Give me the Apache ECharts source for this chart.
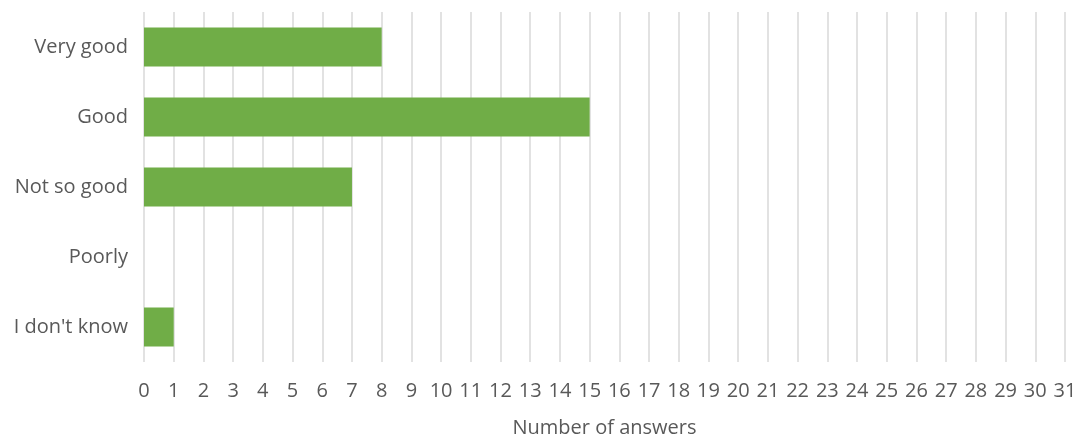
<!DOCTYPE html>
<html>
<head>
<meta charset="utf-8">
<script src="https://cdn.jsdelivr.net/npm/echarts@6/dist/echarts.min.js"></script>
<style>html,body{margin:0;padding:0;background:#fff;}#c{width:1081px;height:437px;}</style>
</head>
<body>
<div id="c"></div>
<script>
const categories = ["Very good", "Good", "Not so good", "Poorly", "I don't know"];
const answers = [8, 15, 7, 0, 1];
const xAxisTitle = "Number of answers";

const chart = echarts.init(document.getElementById('c'), null, {renderer: 'canvas'});
chart.setOption({
  animation: false,
  textStyle: {fontFamily: 'Open Sans'},
  grid: {left: 144, right: 16, top: 12, bottom: 75, containLabel: false, outerBoundsMode: 'none'},
  xAxis: {
    type: 'value', min: 0, max: 31, interval: 1,
    axisLine: {show: false}, axisTick: {show: false},
    splitLine: {show: true, lineStyle: {color: '#d9d9d9', width: 1.5}},
    axisLabel: {color: '#595959', fontSize: 20, margin: 19, fontFamily: 'Open Sans'},
    name: xAxisTitle, nameLocation: 'middle', nameGap: 56,
    nameTextStyle: {color: '#595959', fontSize: 20, fontFamily: 'Open Sans'}
  },
  yAxis: {
    type: 'category', data: categories, inverse: true,
    axisLine: {show: false}, axisTick: {show: false},
    axisLabel: {color: '#595959', fontSize: 20, margin: 16, fontFamily: 'Open Sans'}
  },
  series: [{
    type: 'bar', data: answers, barWidth: 39,
    itemStyle: {color: '#70ad47'}
  }]
});
</script>
</body>
</html>
